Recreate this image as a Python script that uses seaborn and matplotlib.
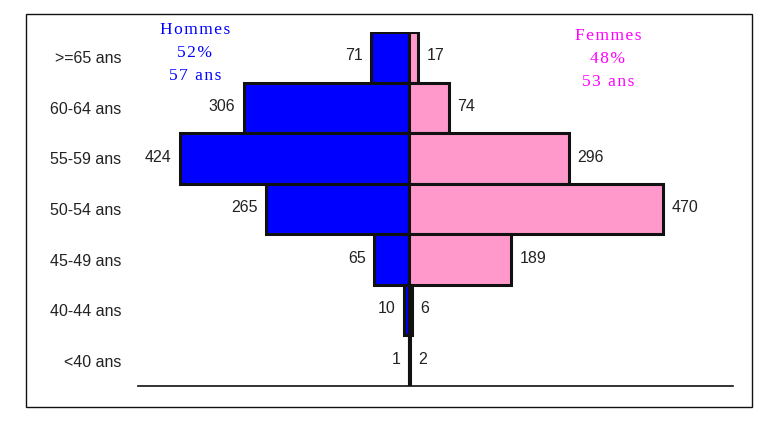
import pandas as pd
import numpy as np
import matplotlib
matplotlib.use('Agg')
import matplotlib.pyplot as plt
import seaborn as sns

# Data read from the pyramid (top to bottom)
age_groups = ['>=65 ans', '60-64 ans', '55-59 ans', '50-54 ans', '45-49 ans', '40-44 ans', '<40 ans']
hommes = [71, 306, 424, 265, 65, 10, 1]
femmes = [17, 74, 296, 470, 189, 6, 2]
hommes_info = ['Hommes', '52%', '57 ans']
femmes_info = ['Femmes', '48%', '53 ans']

df = pd.DataFrame({'age': age_groups, 'hommes': hommes, 'femmes': femmes})
df['hommes_neg'] = -df['hommes']

sns.set_style('white')
plt.rcParams['font.family'] = ['Liberation Sans', 'DejaVu Sans']

fig = plt.figure(figsize=(7.75, 4.21), dpi=100)
ax = fig.add_axes([138 / 775, 1 - 386 / 421, (733 - 138) / 775, (386 - 32) / 421])

sns.barplot(data=df, y='age', x='hommes_neg', orient='h', color='#0000FF',
            saturation=1, width=1.0, edgecolor='#111111', linewidth=2.2, ax=ax)
sns.barplot(data=df, y='age', x='femmes', orient='h', color='#FF99CC',
            saturation=1, width=1.0, edgecolor='#111111', linewidth=2.2, ax=ax)

# value labels
for i, (h, f) in enumerate(zip(hommes, femmes)):
    ax.annotate(str(h), xy=(-h, i), xytext=(-6, 1), textcoords='offset points',
                ha='right', va='center', fontsize=11.5, color='#222222')
    ax.annotate(str(f), xy=(f, i), xytext=(6, 1), textcoords='offset points',
                ha='left', va='center', fontsize=11.5, color='#222222')

ax.set_xlim(-502, 600)
ax.set_ylim(6.5, -0.5)
ax.set_xlabel('')
ax.set_ylabel('')
ax.set_xticks([])
ax.tick_params(axis='y', length=0, pad=12, labelsize=11.5, labelcolor='#222222')
for lab in ax.get_yticklabels():
    lab.set_y(lab.get_position()[1])
for s in ['top', 'right', 'left']:
    ax.spines[s].set_visible(False)
ax.spines['bottom'].set_color('#111111')
ax.spines['bottom'].set_linewidth(1.2)


def spaced(t):
    # letter spacing like the original serif labels
    return '\u200a'.join(t)


# sex summary texts
for k, t in enumerate(hommes_info):
    fig.text(195 / 775, 1 - (30 + 23 * k) / 421, spaced(t), ha='center', va='center',
             color='#0000FF', fontsize=12.5, family=['Liberation Serif', 'DejaVu Serif'])
for k, t in enumerate(femmes_info):
    fig.text(608 / 775, 1 - (36 + 23 * k) / 421, spaced(t), ha='center', va='center',
             color='#FF00FF', fontsize=12.5, family=['Liberation Serif', 'DejaVu Serif'])

# frame around the chart
fig.patches.append(plt.Rectangle((26 / 775, 1 - 407 / 421), (752 - 26) / 775, (407 - 14) / 421,
                                 transform=fig.transFigure, fill=False,
                                 edgecolor='#111111', linewidth=1.0))

fig.savefig('out.png', dpi=100)
